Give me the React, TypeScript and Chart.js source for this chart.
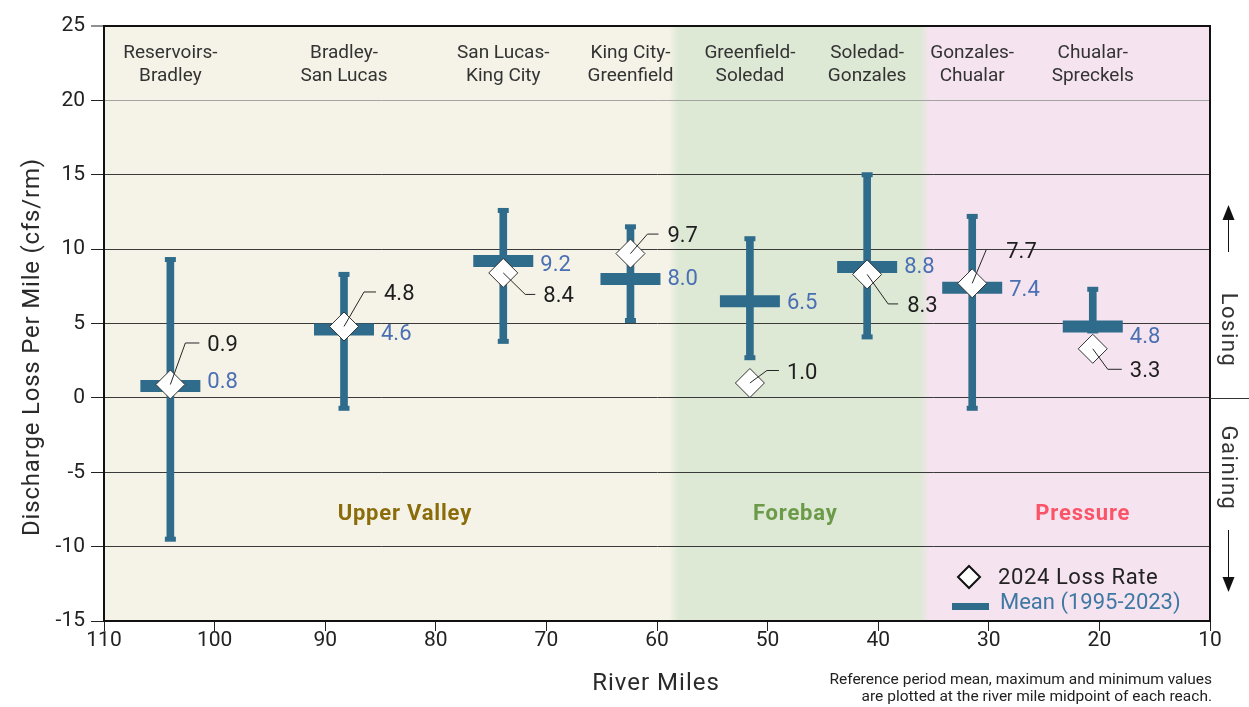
import React, { useEffect, useRef } from "react";
import { Chart, registerables } from "chart.js";

Chart.register(...registerables);

// ---------- data ----------
const reachNames = [
  ["Reservoirs-", "Bradley"],
  ["Bradley-", "San Lucas"],
  ["San Lucas-", "King City"],
  ["King City-", "Greenfield"],
  ["Greenfield-", "Soledad"],
  ["Soledad-", "Gonzales"],
  ["Gonzales-", "Chualar"],
  ["Chualar-", "Spreckels"],
];
const reachMidpointMiles = [104.0, 88.3, 73.9, 62.4, 51.6, 41.0, 31.5, 20.6];
const meanLoss = [0.8, 4.6, 9.2, 8.0, 6.5, 8.8, 7.4, 4.8];
const maxLoss = [9.3, 8.3, 12.6, 11.5, 10.7, 15.0, 12.2, 7.3];
const minLoss = [-9.5, -0.7, 3.8, 5.2, 2.7, 4.1, -0.7, 4.5];
const loss2024 = [0.9, 4.8, 8.4, 9.7, 1.0, 8.3, 7.7, 3.3];
const yTickValues = [-15, -10, -5, 0, 5, 10, 15, 20, 25];
const xTickValues = [10, 20, 30, 40, 50, 60, 70, 80, 90, 100, 110];
const regionNames = ["Upper Valley", "Forebay", "Pressure"];
const regionBoundsMiles = [110, 58.5, 35.8, 10];

// ---------- layout / style ----------
const W = 1249;
const H = 707;
const PLOT_TOP = 26;
const PLOT_BOTTOM = 621;
const FONT = "Roboto";
const BAR = "#2f6b8b";
const MEAN_TXT = "#4a6fb3";
const LEG_TXT = "#3f78a3";
const DARK = "#262626";
const regionFill = ["#f5f3e7", "#dde8d5", "#f5e4ef"];
const regionText = ["#8a6c0a", "#6b9a48", "#fb5468"];
const regionLabelMiles = [82.8, 47.5, 21.5];
const meanLabelDy = [-4, 4, 3, 0, 1, 0, 2, 10];
const lossLabelDy = [-40, -33, 23, -18, -11, 31, -32, 22];
const lossElbowDx = [15, 20, 22, 17, 17, 21, 14, 15];
const lossEndDx = [29, 32, 32, 28, 29, 31, 14, 29];
const lossTextDx = [37, 40, 40, 37, 37, 40, 34, 37];

const bgPlugin = {
  id: "bg",
  beforeDraw(chart: any) {
    const { ctx, chartArea: a, scales } = chart;
    const x = scales.x;
    const g = ctx.createLinearGradient(a.left, 0, a.right, 0);
    const w = a.right - a.left;
    const pos = (m: number) => Math.min(1, Math.max(0, (x.getPixelForValue(m) - a.left) / w));
    const half = 5 / w;
    g.addColorStop(0, regionFill[0]);
    for (let i = 1; i < regionBoundsMiles.length - 1; i++) {
      const p = pos(regionBoundsMiles[i]);
      g.addColorStop(p - half, regionFill[i - 1]);
      g.addColorStop(p + half, regionFill[i]);
    }
    g.addColorStop(1, regionFill[regionFill.length - 1]);
    ctx.save();
    ctx.fillStyle = g;
    ctx.fillRect(a.left, a.top, w, a.bottom - a.top);
    ctx.restore();
  },
};

const textPlugin = {
  id: "texts",
  afterDatasetsDraw(chart: any) {
    const { ctx, scales } = chart;
    const x = scales.x;
    const y = scales.y;
    ctx.save();
    // reach names
    ctx.fillStyle = "#333";
    ctx.font = `19px ${FONT}`;
    ctx.textAlign = "center";
    ctx.textBaseline = "middle";
    reachNames.forEach((lines, i) => {
      const px = x.getPixelForValue(reachMidpointMiles[i]);
      ctx.fillText(lines[0], px, 53);
      ctx.fillText(lines[1], px, 76);
    });
    // region names
    ctx.font = `bold 22px ${FONT}`;
    (ctx as any).letterSpacing = "0.8px";
    regionNames.forEach((n, i) => {
      ctx.fillStyle = regionText[i];
      ctx.fillText(n, x.getPixelForValue(regionLabelMiles[i]), y.getPixelForValue(-7.6) + 4);
    });
    (ctx as any).letterSpacing = "0px";
    // value labels
    ctx.textAlign = "left";
    ctx.font = `22px ${FONT}`;
    reachMidpointMiles.forEach((m, i) => {
      const px = x.getPixelForValue(m);
      const my = y.getPixelForValue(meanLoss[i]);
      ctx.fillStyle = MEAN_TXT;
      ctx.fillText(meanLoss[i].toFixed(1), px + 37, my + meanLabelDy[i] + 1);
      const ly = y.getPixelForValue(loss2024[i]);
      const ty = ly + lossLabelDy[i];
      ctx.strokeStyle = DARK;
      ctx.lineWidth = 1;
      ctx.beginPath();
      ctx.moveTo(px, ly);
      ctx.lineTo(px + lossElbowDx[i], ty - 1.5);
      ctx.lineTo(px + lossEndDx[i], ty - 1.5);
      ctx.stroke();
      ctx.fillStyle = "#1e1e1e";
      ctx.fillText(loss2024[i].toFixed(1), px + lossTextDx[i], ty + 1);
    });
    ctx.restore();
  },
  afterDraw(chart: any) {
    const { ctx, chartArea: a, scales } = chart;
    const y = scales.y;
    ctx.save();
    // right border
    ctx.strokeStyle = "#111";
    ctx.lineWidth = 2;
    ctx.beginPath();
    ctx.moveTo(a.right, a.top - 1);
    ctx.lineTo(a.right, a.bottom + 1);
    ctx.stroke();
    // zero line extension
    const y0 = Math.round(y.getPixelForValue(0)) + 0.5;
    ctx.lineWidth = 1;
    ctx.strokeStyle = "#333";
    ctx.beginPath();
    ctx.moveTo(a.right, y0);
    ctx.lineTo(W, y0);
    ctx.stroke();
    // arrows
    const ax = a.right + 18.5;
    ctx.strokeStyle = "#111";
    ctx.fillStyle = "#111";
    ctx.beginPath();
    ctx.moveTo(ax, 252);
    ctx.lineTo(ax, 218);
    ctx.moveTo(ax, 530);
    ctx.lineTo(ax, 578);
    ctx.stroke();
    ctx.beginPath();
    ctx.moveTo(ax, 205);
    ctx.lineTo(ax - 6, 220);
    ctx.lineTo(ax + 6, 220);
    ctx.closePath();
    ctx.fill();
    ctx.beginPath();
    ctx.moveTo(ax, 592);
    ctx.lineTo(ax - 6, 577);
    ctx.lineTo(ax + 6, 577);
    ctx.closePath();
    ctx.fill();
    // Losing / Gaining
    ctx.fillStyle = "#333";
    ctx.font = `22px ${FONT}`;
    (ctx as any).letterSpacing = "1.5px";
    ctx.textAlign = "center";
    ctx.textBaseline = "middle";
    ctx.save();
    ctx.translate(ax - 1, 330);
    ctx.rotate(Math.PI / 2);
    ctx.fillText("Losing", 0, 0);
    ctx.restore();
    ctx.save();
    ctx.translate(ax - 1, 468);
    ctx.rotate(Math.PI / 2);
    ctx.fillText("Gaining", 0, 0);
    ctx.restore();
    (ctx as any).letterSpacing = "0px";
    // axis titles
    ctx.fillStyle = "#2a2a2a";
    ctx.font = `24px ${FONT}`;
    (ctx as any).letterSpacing = "0.8px";
    ctx.save();
    ctx.translate(33, 347);
    ctx.rotate(-Math.PI / 2);
    ctx.fillText("Discharge Loss Per Mile (cfs/rm)", 0, 0);
    ctx.restore();
    (ctx as any).letterSpacing = "1px";
    ctx.fillText("River Miles", 656, 684);
    (ctx as any).letterSpacing = "0px";
    // note
    ctx.font = `15.5px ${FONT}`;
    ctx.textAlign = "right";
    ctx.fillStyle = "#222";
    ctx.fillText("Reference period mean, maximum and minimum values", 1212, 680);
    ctx.fillText("are plotted at the river mile midpoint of each reach.", 1212, 697);
    // legend
    const dx = 969;
    const dy = 577;
    ctx.beginPath();
    ctx.moveTo(dx, dy - 11);
    ctx.lineTo(dx + 11, dy);
    ctx.lineTo(dx, dy + 11);
    ctx.lineTo(dx - 11, dy);
    ctx.closePath();
    ctx.fillStyle = "#fff";
    ctx.fill();
    ctx.lineWidth = 2;
    ctx.strokeStyle = "#111";
    ctx.stroke();
    ctx.fillStyle = BAR;
    ctx.fillRect(952, 603, 37, 7);
    ctx.textAlign = "left";
    ctx.font = `22px ${FONT}`;
    ctx.fillStyle = "#222";
    (ctx as any).letterSpacing = "0.6px";
    ctx.fillText("2024 Loss Rate", 998, 578);
    ctx.fillStyle = LEG_TXT;
    (ctx as any).letterSpacing = "0px";
    ctx.fillText("Mean (1995-2023)", 1000, 603);
    ctx.restore();
  },
};

export default function App() {
  const ref = useRef<HTMLCanvasElement | null>(null);
  useEffect(() => {
    document.body.style.margin = "0";
    const canvas = ref.current;
    if (!canvas) return;
    const chart = new Chart(canvas, {
      type: "scatter",
      data: {
        datasets: [
          {
            type: "scatter",
            label: "2024 Loss Rate",
            data: reachMidpointMiles.map((m, i) => ({ x: m, y: loss2024[i] })),
            pointStyle: "rectRot",
            pointRadius: 14.5,
            pointBackgroundColor: "#ffffff",
            pointBorderColor: "#333",
            pointBorderWidth: 1,
            order: 0,
          },
          {
            type: "scatter",
            label: "Mean (1995-2023)",
            data: reachMidpointMiles.map((m, i) => ({ x: m, y: meanLoss[i] })),
            pointStyle: "line",
            pointRadius: 30,
            pointBorderWidth: 12,
            pointBorderColor: BAR,
            pointBackgroundColor: BAR,
            order: 1,
          },
          {
            type: "scatter",
            label: "Max cap",
            data: reachMidpointMiles.map((m, i) => ({ x: m, y: maxLoss[i] })),
            pointStyle: "line",
            pointRadius: 5.5,
            pointBorderWidth: 5,
            pointBorderColor: BAR,
            pointBackgroundColor: BAR,
            order: 2,
          },
          {
            type: "scatter",
            label: "Min cap",
            data: reachMidpointMiles.map((m, i) => ({ x: m, y: minLoss[i] })),
            pointStyle: "line",
            pointRadius: 5.5,
            pointBorderWidth: 5,
            pointBorderColor: BAR,
            pointBackgroundColor: BAR,
            order: 2,
          },
          {
            type: "bar",
            label: "Range",
            data: reachMidpointMiles.map((m, i) => ({ x: m, y: [minLoss[i], maxLoss[i]] })) as any,
            backgroundColor: BAR,
            borderWidth: 0,
            barThickness: 7,
            grouped: false,
            order: 3,
          } as any,
        ],
      },
      options: {
        responsive: false,
        animation: false,
        events: [],
        layout: { autoPadding: false, padding: { top: PLOT_TOP, right: 39, left: 0, bottom: 0 } },
        plugins: { legend: { display: false }, tooltip: { enabled: false } },
        scales: {
          x: {
            type: "linear",
            reverse: true,
            min: 10,
            max: 110,
            offset: false,
            afterBuildTicks: (s: any) => {
              s.ticks = xTickValues.map((v) => ({ value: v }));
            },
            afterFit: (s: any) => {
              s.height = H - PLOT_BOTTOM;
              s.paddingLeft = 0;
              s.paddingRight = 0;
              s.paddingTop = 0;
              s.paddingBottom = 0;
            },
            grid: {
              offset: false,
              drawOnChartArea: false,
              drawTicks: true,
              tickLength: 10,
              color: "#222",
              lineWidth: 1,
            },
            border: { display: true, width: 2, color: "#111" },
            ticks: {
              padding: -3,
              maxRotation: 0,
              autoSkip: false,
              color: "#222",
              font: { family: FONT, size: 21 },
            },
          },
          y: {
            type: "linear",
            min: -15,
            max: 25,
            afterBuildTicks: (s: any) => {
              s.ticks = yTickValues.map((v) => ({ value: v }));
            },
            afterFit: (s: any) => {
              s.width = 104;
              s.paddingTop = 0;
              s.paddingBottom = 0;
              s.paddingLeft = 0;
              s.paddingRight = 0;
            },
            grid: {
              color: (c: any) => (c.tick && c.tick.value === 20 ? "#a3a3a3" : c.tick && c.tick.value === 25 ? "#111" : "#3a3a3a"),
              lineWidth: (c: any) => (c.tick && c.tick.value === 25 ? 2 : 1),
              tickColor: "#222",
              tickWidth: 1,
              tickLength: 13,
              drawTicks: true,
            },
            border: { display: true, width: 2, color: "#111" },
            ticks: {
              padding: 6,
              color: "#222",
              font: { family: FONT, size: 21 },
            },
          },
        },
      },
      plugins: [bgPlugin, textPlugin],
    } as any);
    return () => chart.destroy();
  }, []);
  return (
    <canvas
      ref={ref}
      width={W}
      height={H}
      style={{ display: "block", width: W, height: H }}
    />
  );
}
